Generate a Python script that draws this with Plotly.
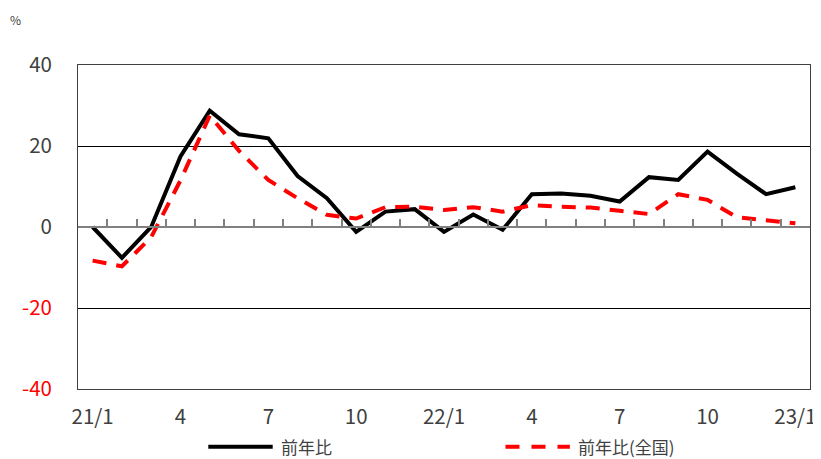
import plotly.graph_objects as go

months = ["21/1", "2", "3", "4", "5", "6", "7", "8", "9", "10", "11", "12",
          "22/1", "2", "3", "4", "5", "6", "7", "8", "9", "10", "11", "12", "23/1"]
tick_labels = ["21/1", "4", "7", "10", "22/1", "4", "7", "10", "23/1"]
tick_idx = [0, 3, 6, 9, 12, 15, 18, 21, 24]

yoy_local = [0.0, -7.6, 0.0, 17.4, 28.7, 22.9, 21.9, 12.6, 7.1, -1.2, 3.8, 4.4,
             -1.2, 3.1, -0.7, 8.1, 8.3, 7.7, 6.3, 12.3, 11.6, 18.6, 13.2, 8.1, 9.8]
yoy_national = [-8.3, -9.7, -2.5, 11.5, 27.5, 18.8, 11.6, 7.1, 3.0, 2.1, 4.9, 5.0,
                4.2, 4.9, 3.8, 5.4, 5.0, 4.8, 4.0, 3.2, 8.1, 6.7, 2.4, 1.6, 0.9]
names = ["前年比", "前年比(全国)"]

y_ticks = [-40, -20, 0, 20, 40]
y_text = ['<span style="color:#FF0000">-40</span>', '<span style="color:#FF0000">-20</span>',
          "0", "20", "40"]

FONT = "Noto Sans CJK JP"
x = list(range(len(months)))

fig = go.Figure()
fig.add_trace(go.Scatter(x=x, y=yoy_local, mode="lines", name=names[0],
                         line=dict(color="#000000", width=4), showlegend=False,
                         xaxis="x", yaxis="y"))
fig.add_trace(go.Scatter(x=x, y=yoy_national, mode="lines", name=names[1],
                         line=dict(color="#FF0000", width=4, dash="14px,10px"),
                         showlegend=False, xaxis="x2", yaxis="y"))

fig.update_layout(
    width=813, height=451,
    margin=dict(l=70, r=11, t=57, b=70, autoexpand=False),
    paper_bgcolor="white", plot_bgcolor="white",
    font=dict(family=FONT, color="#404040", size=20),
    xaxis=dict(range=[-0.5, 24.5], tickvals=tick_idx, ticktext=tick_labels,
               showgrid=False, zeroline=False, showline=True, mirror=True,
               linecolor="#404040", linewidth=1, automargin=False,
               ticks="outside", ticklen=9, tickcolor="rgba(0,0,0,0)",
               tickfont=dict(size=20.5, color="#404040")),
    xaxis2=dict(range=[-0.5, 24.5], overlaying="x", anchor="free", position=0.5,
                side="bottom", tickvals=[i + 0.5 for i in range(len(months) - 1)],
                showticklabels=False, ticks="inside", ticklen=7, tickcolor="#808080",
                tickwidth=1.5, showgrid=False, zeroline=False, showline=True,
                linecolor="#808080", linewidth=2, automargin=False),
    yaxis=dict(range=[-40, 40], tickvals=y_ticks, ticktext=y_text,
               showgrid=True, gridcolor="#000000", gridwidth=1, zeroline=False,
               showline=True, mirror=True, linecolor="#404040", linewidth=1,
               automargin=False,
               ticks="outside", ticklen=21, tickcolor="rgba(0,0,0,0)",
               tickfont=dict(size=20.5, color="#404040")),
)

# "%" unit label
fig.add_annotation(text="%", xref="paper", yref="paper", x=-0.096, y=1.14,
                   xanchor="left", yanchor="middle", showarrow=False,
                   font=dict(size=12, color="#404040"))

# Custom legend
leg_y = -0.178
fig.add_shape(type="line", xref="paper", yref="paper", x0=0.178, x1=0.266,
              y0=leg_y, y1=leg_y, line=dict(color="#000000", width=4))
fig.add_annotation(text=names[0], xref="paper", yref="paper", x=0.274, y=leg_y,
                   xanchor="left", yanchor="middle", showarrow=False,
                   font=dict(size=17, color="#404040"))
fig.add_shape(type="line", xref="paper", yref="paper", x0=0.584, x1=0.672,
              y0=leg_y, y1=leg_y, line=dict(color="#FF0000", width=4, dash="14px,12px"))
fig.add_annotation(text=names[1], xref="paper", yref="paper", x=0.68, y=leg_y,
                   xanchor="left", yanchor="middle", showarrow=False,
                   font=dict(size=17, color="#404040"))

fig.write_html("out.html")
